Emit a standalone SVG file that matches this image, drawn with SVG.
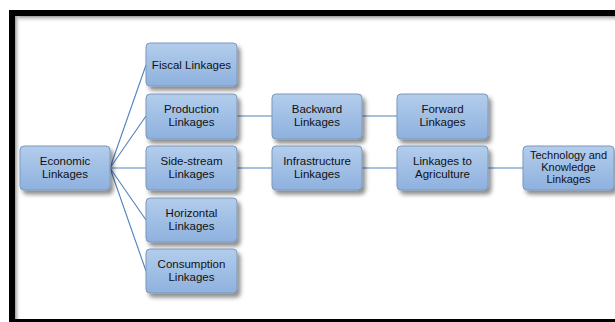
<svg xmlns="http://www.w3.org/2000/svg" width="615" height="322" viewBox="0 0 615 322">
<defs>
<linearGradient id="nodeFill" x1="0" y1="0" x2="0" y2="1">
<stop offset="0" stop-color="#b3cdec"/>
<stop offset="1" stop-color="#8eb1de"/>
</linearGradient>
<linearGradient id="topShade" x1="0" y1="0" x2="0" y2="1">
<stop offset="0" stop-color="#9a9a9a"/>
<stop offset="1" stop-color="#ffffff" stop-opacity="0"/>
</linearGradient>
<linearGradient id="leftShade" x1="0" y1="0" x2="1" y2="0">
<stop offset="0" stop-color="#9a9a9a"/>
<stop offset="1" stop-color="#ffffff" stop-opacity="0"/>
</linearGradient>
<filter id="shadow" x="-20%" y="-20%" width="150%" height="160%">
<feDropShadow dx="3" dy="4" stdDeviation="2.2" flood-color="#000" flood-opacity="0.45"/>
</filter>
</defs>
<style>
.node rect { fill: url(#nodeFill); stroke: #7c98bd; stroke-width: 1; filter: url(#shadow); }
.node text { font-family: "Liberation Sans", Arial, sans-serif; font-size: 11.5px; fill: #111; text-anchor: middle; }
.conn line { stroke: #4f81bd; stroke-width: 1.1; }
</style>
<rect width="615" height="322" fill="#ffffff"/>
<!-- frame -->
<rect x="15" y="16" width="600" height="7" fill="url(#topShade)"/>
<rect x="15" y="16" width="6" height="303" fill="url(#leftShade)"/>
<rect x="9" y="10" width="606" height="6" fill="#000"/>
<rect x="9" y="10" width="6" height="312" fill="#000"/>
<rect x="9" y="319" width="606" height="3" fill="#000"/>
<g class="conn">
<line x1="110" y1="168" x2="146" y2="65"/>
<line x1="110" y1="168" x2="146" y2="116"/>
<line x1="110" y1="168" x2="146" y2="168"/>
<line x1="110" y1="168" x2="146" y2="220"/>
<line x1="110" y1="168" x2="146" y2="271"/>
<line x1="237" y1="116" x2="272" y2="116"/>
<line x1="362" y1="116" x2="397" y2="116"/>
<line x1="237" y1="168" x2="272" y2="168"/>
<line x1="362" y1="168" x2="397" y2="168"/>
<line x1="488" y1="168" x2="523" y2="168"/>
</g>
<g id="economic" class="node"><rect x="20" y="146" width="90" height="44" rx="4"/><text x="65" y="165">Economic</text><text x="65" y="178">Linkages</text></g>
<g id="fiscal" class="node"><rect x="146" y="43" width="91" height="43" rx="4"/><text x="191.5" y="69">Fiscal Linkages</text></g>
<g id="production" class="node"><rect x="146" y="94" width="91" height="45" rx="4"/><text x="191.5" y="113">Production</text><text x="191.5" y="126">Linkages</text></g>
<g id="sidestream" class="node"><rect x="146" y="146" width="91" height="44" rx="4"/><text x="191.5" y="165">Side-stream</text><text x="191.5" y="178">Linkages</text></g>
<g id="horizontal" class="node"><rect x="146" y="198" width="91" height="44" rx="4"/><text x="191.5" y="217">Horizontal</text><text x="191.5" y="230">Linkages</text></g>
<g id="consumption" class="node"><rect x="146" y="249" width="91" height="44" rx="4"/><text x="191.5" y="268">Consumption</text><text x="191.5" y="281">Linkages</text></g>
<g id="backward" class="node"><rect x="272" y="94" width="90" height="45" rx="4"/><text x="317" y="113">Backward</text><text x="317" y="126">Linkages</text></g>
<g id="forward" class="node"><rect x="397" y="94" width="91" height="45" rx="4"/><text x="442.5" y="113">Forward</text><text x="442.5" y="126">Linkages</text></g>
<g id="infrastructure" class="node"><rect x="272" y="146" width="90" height="44" rx="4"/><text x="317" y="165">Infrastructure</text><text x="317" y="178">Linkages</text></g>
<g id="agriculture" class="node"><rect x="397" y="146" width="91" height="44" rx="4"/><text x="442.5" y="165">Linkages to</text><text x="442.5" y="178">Agriculture</text></g>
<g id="technology" class="node"><rect x="523" y="146" width="91" height="44" rx="4"/><text x="568.5" y="159" style="font-size:11px">Technology and</text><text x="568.5" y="171" style="font-size:11px">Knowledge</text><text x="568.5" y="183" style="font-size:11px">Linkages</text></g>
</svg>
